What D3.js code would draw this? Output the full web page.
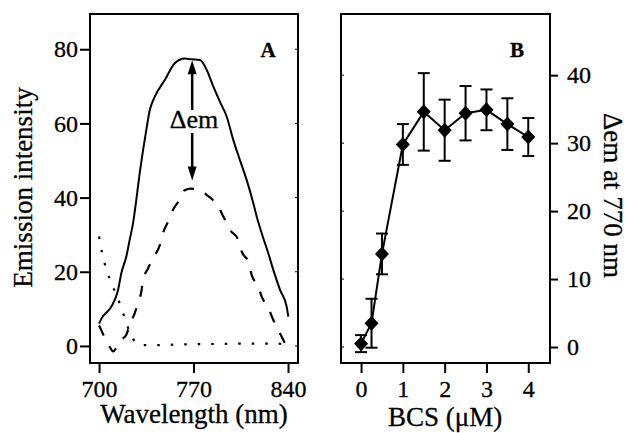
<!DOCTYPE html>
<html>
<head>
<meta charset="utf-8">
<script src="https://cdnjs.cloudflare.com/ajax/libs/d3/7.8.5/d3.min.js"></script>
<style>
  body { margin: 0; background: #fff; }
  text { font-family: "Liberation Serif", "Times New Roman", serif; fill: #000; stroke: #000; stroke-width: 0.3px; }
</style>
</head>
<body>
<div id="chart"></div>
<script>
// Panel A: emission spectra (three traces)
var solidWl = [700, 702, 709.1, 714.1, 716.5, 720.2, 722.7, 725.2, 727.6, 730.1, 732.6, 735, 737.6, 741.3, 748.7, 756.1, 763.5, 768.4, 774.8, 779.8, 784.7, 789.6, 794.6, 799.5, 804.4, 809.4, 814.3, 816.8, 820.5, 825.4, 829.1, 834.1, 839, 840.2];
var solidEm = [6, 7.5, 10.6, 15.1, 19.6, 24.1, 28.6, 33.1, 39.4, 46.5, 52.8, 58.2, 63.6, 67.2, 71.7, 76.2, 77.5, 77.3, 77.1, 74.4, 69.9, 65.8, 61.8, 55.5, 50.1, 44.7, 38.5, 34.9, 30.4, 25, 20.5, 15.1, 10.6, 7.9];

var dashedWl = [700, 702, 705, 708, 710.5, 713, 716, 720.2, 722.7, 726.4, 728.9, 731.3, 732.6, 736.3, 740, 745, 747.4, 751.1, 753.6, 761, 763.5, 768, 772, 774.8, 779.8, 788.4, 792.1, 797, 803.2, 805.7, 810.6, 813.1, 818, 820.5, 825.4, 829.1, 832.8, 837.8, 840.5];
var dashedEm = [5.5, 4, 1.5, -0.3, -1.5, -0.3, 1.5, 3.0, 5.7, 8.8, 11.5, 14.6, 17.8, 20.9, 23.6, 27.2, 30.5, 33.5, 35.8, 40.2, 42, 42.4, 42.3, 42, 40.7, 37.5, 34.9, 31.3, 28.6, 25.4, 22.7, 19.1, 16, 13.3, 10.2, 7, 4.3, 0.7, -1];

var dottedWl = [700, 702, 704.5, 708, 712, 715.8, 719.5, 723, 727, 731, 740, 760, 780, 800, 820, 833, 837, 840];
var dottedEm = [29.5, 25.5, 21.8, 18, 14.5, 11, 7, 3.5, 1, 0.2, 0.2, 0.4, 0.5, 0.6, 0.6, 0.6, 0.2, -1.5];

var wlTicks = [700, 770, 840];
var emTicks = [0, 20, 40, 60, 80];

// Panel B: delta em at 770 nm vs BCS
var bcs = [0, 0.25, 0.5, 1, 1.5, 2, 2.5, 3, 3.5, 4];
var deltaEm = [0.5, 3.5, 13.7, 29.8, 34.6, 31.9, 34.4, 34.9, 32.8, 30.9];
var deltaErr = [1.25, 3.6, 3.0, 3.0, 5.7, 4.5, 4.0, 3.0, 3.8, 2.8];

var bcsTicks = [0, 1, 2, 3, 4];
var deltaTicks = [0, 10, 20, 30, 40];

var svg = d3.select("#chart")
  .append("svg")
  .attr("width", 630)
  .attr("height", 433);

var frameTop = 14, frameBottom = 363;

// scales
var xA = d3.scaleLinear().domain([693.3, 847.4]).range([90, 298]);
var yA = d3.scaleLinear().domain([-4.6, 89.5]).range([frameBottom, frameTop]);
var xB = d3.scaleLinear().domain([-0.48, 4.52]).range([341, 550]);
var yB = d3.scaleLinear().domain([-2.35, 49]).range([frameBottom, frameTop]);

function styleAxis(g) {
  g.select(".domain").remove();
  g.selectAll("line").attr("stroke", "#000").attr("stroke-width", 2);
  g.selectAll("text").style("font-size", "24px").attr("fill", "#000");
}

// ---- panel A ----
svg.append("g")
  .attr("transform", `translate(90,0)`)
  .call(d3.axisLeft(yA).tickValues(emTicks).tickSize(10).tickPadding(2))
  .call(styleAxis);

svg.append("g")
  .attr("transform", `translate(0,${frameBottom})`)
  .call(d3.axisBottom(xA).tickValues(wlTicks).tickSize(10).tickPadding(7))
  .call(styleAxis);

// small inner ticks on the right edge
svg.append("g").selectAll("line")
  .data(emTicks)
  .enter()
  .append("line")
  .attr("x1", 295).attr("x2", 298)
  .attr("y1", d => yA(d)).attr("y2", d => yA(d))
  .attr("stroke", "#000").attr("stroke-width", 1);

var lineA = function(wl, em) {
  return d3.line()
    .x((d, i) => xA(wl[i]))
    .y(d => yA(d))
    .curve(d3.curveMonotoneX)(em);
};

svg.append("path")
  .attr("d", lineA(solidWl, solidEm))
  .attr("fill", "none").attr("stroke", "#000").attr("stroke-width", 2);

svg.append("path")
  .attr("d", lineA(dashedWl, dashedEm))
  .attr("fill", "none").attr("stroke", "#000").attr("stroke-width", 2.2)
  .attr("stroke-dasharray", "11,12");

svg.append("path")
  .attr("d", lineA(dottedWl, dottedEm))
  .attr("fill", "none").attr("stroke", "#000").attr("stroke-width", 2.2)
  .attr("stroke-dasharray", "2.5,11");

svg.append("rect")
  .attr("x", 90).attr("y", frameTop)
  .attr("width", 208).attr("height", frameBottom - frameTop)
  .attr("fill", "none").attr("stroke", "#000").attr("stroke-width", 2);

// delta em arrows
var arrowX = xA(769);
function arrow(y1, y2) {
  var dir = y2 < y1 ? 1 : -1;
  svg.append("line")
    .attr("x1", arrowX).attr("x2", arrowX)
    .attr("y1", y1).attr("y2", y2 + dir * 10)
    .attr("stroke", "#000").attr("stroke-width", 2.5);
  svg.append("path")
    .attr("d", `M${arrowX},${y2} L${arrowX - 4.5},${y2 + dir * 14} L${arrowX + 4.5},${y2 + dir * 14} Z`)
    .attr("fill", "#000");
}
arrow(yA(63.6), yA(77));
arrow(yA(57.4), yA(44.6));

svg.append("text")
  .attr("x", xA(770.3)).attr("y", yA(58.8))
  .attr("text-anchor", "middle")
  .style("font-size", "26px")
  .text("\u0394em");

svg.append("text")
  .attr("x", 268).attr("y", 57)
  .attr("text-anchor", "middle")
  .style("font-size", "21px").style("font-weight", "bold")
  .text("A");

svg.append("text")
  .attr("transform", "translate(32,187.5) rotate(-90)")
  .attr("text-anchor", "middle")
  .style("font-size", "27px")
  .text("Emission intensity");

svg.append("text")
  .attr("x", 194).attr("y", 423)
  .attr("text-anchor", "middle")
  .style("font-size", "27px")
  .text("Wavelength (nm)");

// ---- panel B ----
svg.append("g")
  .attr("transform", `translate(550,0)`)
  .call(d3.axisRight(yB).tickValues(deltaTicks).tickSize(8).tickPadding(9))
  .call(styleAxis);

svg.append("g")
  .attr("transform", `translate(0,${frameBottom})`)
  .call(d3.axisBottom(xB).tickValues(bcsTicks).tickFormat(d3.format("d")).tickSize(10).tickPadding(7))
  .call(styleAxis);

svg.append("g").selectAll("line")
  .data(deltaTicks)
  .enter()
  .append("line")
  .attr("x1", 341).attr("x2", 344)
  .attr("y1", d => yB(d)).attr("y2", d => yB(d))
  .attr("stroke", "#000").attr("stroke-width", 1);

svg.append("path")
  .attr("d", d3.line().x((d, i) => xB(bcs[i])).y(d => yB(d))(deltaEm))
  .attr("fill", "none").attr("stroke", "#000").attr("stroke-width", 2);

var errGroup = svg.append("g").attr("stroke", "#000").attr("stroke-width", 2);
bcs.forEach(function(b, i) {
  var x = xB(b), yt = yB(deltaEm[i] + deltaErr[i]), yb = yB(deltaEm[i] - deltaErr[i]);
  errGroup.append("line").attr("x1", x).attr("x2", x).attr("y1", yt).attr("y2", yb);
  errGroup.append("line").attr("x1", x - 6).attr("x2", x + 6).attr("y1", yt).attr("y2", yt);
  errGroup.append("line").attr("x1", x - 6).attr("x2", x + 6).attr("y1", yb).attr("y2", yb);
});

svg.append("g").selectAll("path")
  .data(deltaEm)
  .enter()
  .append("path")
  .attr("transform", (d, i) => `translate(${xB(bcs[i])},${yB(d)})`)
  .attr("d", "M0,-7.5 L7,0 L0,7.5 L-7,0 Z")
  .attr("fill", "#000");

svg.append("rect")
  .attr("x", 341).attr("y", frameTop)
  .attr("width", 209).attr("height", frameBottom - frameTop)
  .attr("fill", "none").attr("stroke", "#000").attr("stroke-width", 2);

svg.append("text")
  .attr("x", 517).attr("y", 57)
  .attr("text-anchor", "middle")
  .style("font-size", "21px").style("font-weight", "bold")
  .text("B");

svg.append("text")
  .attr("transform", "translate(604,195.5) rotate(90)")
  .attr("text-anchor", "middle")
  .style("font-size", "27px")
  .text("\u0394em at 770 nm");

svg.append("text")
  .attr("x", 445).attr("y", 426)
  .attr("text-anchor", "middle")
  .style("font-size", "27px")
  .text("BCS (\u03BCM)");
</script>
</body>
</html>
